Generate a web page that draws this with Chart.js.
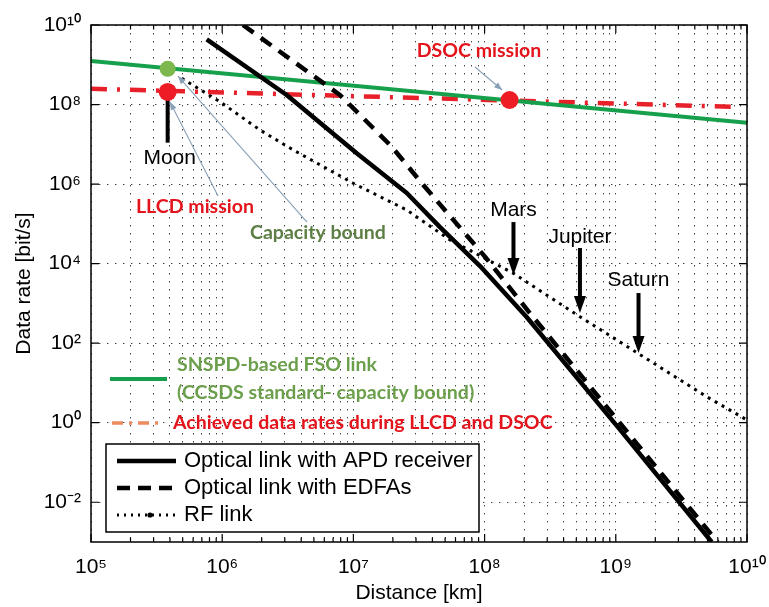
<!DOCTYPE html>
<html><head><meta charset="utf-8">
<script src="https://cdn.jsdelivr.net/npm/chart.js@4.4.1/dist/chart.umd.min.js"></script>
<style>html,body{margin:0;padding:0;background:#fff;}canvas{display:block;}</style>
</head><body>
<canvas id="c" width="769" height="607"></canvas>
<script>
// ---------------- data ----------------
const capDist  = [1e5, 1e10];
const capRate  = [1.25e9, 3.5e7];
const achDist  = [1e5, 8.4e9];
const achRate  = [2.5e8, 8.7e7];
const apdDist  = [7.62e5, 3.1e6, 1.06e7, 2.55e7, 4.57e7, 9.23e7, 2.09e8, 1.08e9, 5.38e9];
const apdRate  = [4.37e9, 1.74e8, 5.94e6, 5.97e5, 8.3e4, 8.7e3, 455, 0.66, 1e-3];
const edfaDist = [1.44e6, 7.9e6, 1.42e7, 1.96e7, 3.41e7, 1.007e8, 2.22e8, 1.44e9, 5.96e9];
const edfaRate = [1e10, 1.74e8, 2.53e7, 8.7e6, 9.5e5, 1.49e4, 564, 0.303, 1e-3];
const rfDist   = [4.91e5, 9.6e5, 1.94e6, 3.48e6, 9.97e6, 2.55e7, 5.45e7, 1.66e8, 5.33e8, 1.62e9, 4.93e9, 1e10];
const rfRate   = [4.57e8, 1.18e8, 2.29e7, 7.2e6, 1.05e6, 2.23e5, 3.93e4, 5.7e3, 462, 45.7, 4.5, 1.17];
const missionDist = [3.84e5, 1.55e8];     // LLCD, DSOC
const missionRate = [2.07e8, 1.3e8];
const moonCapDist = [3.84e5];
const moonCapRate = [7.9e8];
const xTickExp = [5, 6, 7, 8, 9, 10];
const yTickExp = [-2, 0, 2, 4, 6, 8, 10];
const planetNames = ['Moon', 'Mars', 'Jupiter', 'Saturn'];
const planetDist  = [3.84e5, 1.66e8, 5.33e8, 1.49e9];
const planetLabelRate = [4.5e6, 2.23e5, 4.75e4, 3.87e3];
const planetArrowFrom = [1.1e7, 1.11e5, 2.47e4, 1.82e3];
const planetArrowTo   = [2.07e8, 5.2e3, 573, 56.6];
const noteText = ['DSOC mission', 'LLCD mission', 'Capacity bound'];
const noteDist = [9.06e7, 6.2e5, 5.37e6];
const noteRate = [2.22e9, 2.65e5, 5.9e4];
const noteFromDist = [8.45e7, 9.3e5, 4.43e6];
const noteFromRate = [8.8e8, 5.0e5, 1.11e5];
const noteToDist = [1.36e8, 4.0e5, 4.6e5];
const noteToRate = [2.32e8, 1.16e8, 5.2e8];

// ---------------- helpers ----------------
const zip = (xs, ys) => xs.map((x, i) => ({x, y: ys[i]}));
const SUP = {'0':'⁰','1':'¹','2':'²','3':'³','4':'⁴','5':'⁵','6':'⁶','7':'⁷','8':'⁸','9':'⁹','-':'⁻'};
const expLabel = v => '10' + String(Math.round(Math.log10(v))).split('').map(c => SUP[c]).join('');
const isMajor = v => Math.abs(Math.log10(v) - Math.round(Math.log10(v))) < 1e-9;
const xTicks = [];
xTickExp.forEach((e, i) => {
  if (i < xTickExp.length - 1) { for (let k = 1; k <= 9; k++) xTicks.push(k * Math.pow(10, e)); }
  else xTicks.push(Math.pow(10, e));
});
const yTicks = yTickExp.map(e => Math.pow(10, e));

const GREEN = '#16a04c', RED = '#e8202a', TXTGREEN = '#6c9f4c', TXTGREEN2 = '#5d7f45', TXTRED = '#e3141c';
const NOTEBLUE = '#8aa0b6';
const SANS = '"Liberation Sans", Arial, sans-serif';
const CAL = 'Lato, "Open Sans", sans-serif';

function fitSize(ctx, text, width, family, weight) {
  ctx.font = weight + ' 20px ' + family;
  return 20 * width / ctx.measureText(text).width;
}
function arrowHead(ctx, x0, y0, x1, y1, len, half) {
  const ang = Math.atan2(y1 - y0, x1 - x0);
  ctx.beginPath();
  ctx.moveTo(x1, y1);
  ctx.lineTo(x1 - len * Math.cos(ang) + half * Math.sin(ang), y1 - len * Math.sin(ang) - half * Math.cos(ang));
  ctx.lineTo(x1 - len * Math.cos(ang) - half * Math.sin(ang), y1 - len * Math.sin(ang) + half * Math.cos(ang));
  ctx.closePath(); ctx.fill();
}

const decor = {
  id: 'decor',
  beforeDatasetsDraw(chart) {
    const {ctx, scales: {x, y}} = chart;
    ctx.save();
    ctx.fillStyle = '#000'; ctx.strokeStyle = '#000';
    planetNames.forEach((n, i) => {
      const px = x.getPixelForValue(planetDist[i]);
      const y0 = y.getPixelForValue(planetArrowFrom[i]);
      const y1 = y.getPixelForValue(planetArrowTo[i]);
      const hasHead = i > 0;
      ctx.lineWidth = 4;
      ctx.beginPath(); ctx.moveTo(px, y0); ctx.lineTo(px, hasHead ? y1 - 12 : y1); ctx.stroke();
      if (hasHead) arrowHead(ctx, px, y0, px, y1, 17, 6);
      ctx.font = '21px ' + SANS; ctx.textAlign = 'center'; ctx.textBaseline = 'middle';
      ctx.fillText(n, px + (i === 0 ? 2 : 0), y.getPixelForValue(planetLabelRate[i]));
    });
    ctx.restore();
  },
  afterDatasetsDraw(chart) {
    const {ctx, chartArea: a, scales: {x, y}} = chart;
    ctx.save();
    // frame
    ctx.strokeStyle = '#000'; ctx.lineWidth = 1.5;
    ctx.strokeRect(a.left, a.top, a.right - a.left, a.bottom - a.top);
    // inward ticks
    ctx.lineWidth = 1.2;
    x.ticks.forEach(t => {
      const px = x.getPixelForValue(t.value);
      const len = isMajor(t.value) ? 8 : 4.5;
      ctx.beginPath();
      ctx.moveTo(px, a.bottom); ctx.lineTo(px, a.bottom - len);
      ctx.moveTo(px, a.top); ctx.lineTo(px, a.top + len);
      ctx.stroke();
    });
    y.ticks.forEach(t => {
      const py = y.getPixelForValue(t.value);
      ctx.beginPath();
      ctx.moveTo(a.left, py); ctx.lineTo(a.left + 8, py);
      ctx.moveTo(a.right, py); ctx.lineTo(a.right - 8, py);
      ctx.stroke();
    });
    // annotation notes with thin arrows
    noteText.forEach((t, i) => {
      const fx = x.getPixelForValue(noteFromDist[i]), fy = y.getPixelForValue(noteFromRate[i]);
      const tx = x.getPixelForValue(noteToDist[i]), ty = y.getPixelForValue(noteToRate[i]);
      ctx.strokeStyle = NOTEBLUE; ctx.fillStyle = NOTEBLUE; ctx.lineWidth = 1.1;
      ctx.beginPath(); ctx.moveTo(fx, fy); ctx.lineTo(tx, ty); ctx.stroke();
      arrowHead(ctx, fx, fy, tx, ty, 8, 3.2);
    });
    const fs = fitSize(ctx, 'Achieved data rates during LLCD and DSOC', 380, CAL, 'bold');
    const CFONT = 'bold ' + fs.toFixed(2) + 'px ' + CAL;
    const noteCol = [TXTRED, TXTRED, TXTGREEN2];
    noteText.forEach((t, i) => {
      ctx.font = CFONT;
      ctx.fillStyle = noteCol[i]; ctx.textAlign = 'center'; ctx.textBaseline = 'middle';
      ctx.fillText(t, x.getPixelForValue(noteDist[i]), y.getPixelForValue(noteRate[i]));
    });
    // coloured legend (upper)
    const L = a.left, B = a.bottom;
    ctx.setLineDash([]);
    ctx.strokeStyle = GREEN; ctx.lineWidth = 4;
    ctx.beginPath(); ctx.moveTo(L + 19, B - 163); ctx.lineTo(L + 76, B - 163); ctx.stroke();
    ctx.textAlign = 'left'; ctx.textBaseline = 'middle';
    ctx.fillStyle = TXTGREEN; ctx.font = CFONT;
    ctx.fillText('SNSPD-based FSO link', L + 86, B - 177);
    ctx.fillText('(CCSDS standard- capacity bound)', L + 86, B - 149);
    ctx.strokeStyle = '#ec8b5e'; ctx.lineWidth = 3.5; ctx.setLineDash([11, 6, 3, 6]);
    ctx.beginPath(); ctx.moveTo(L + 21, B - 119); ctx.lineTo(L + 70, B - 119); ctx.stroke();
    ctx.setLineDash([]);
    ctx.fillStyle = TXTRED;
    ctx.fillText('Achieved data rates during LLCD and DSOC', L + 82, B - 119);
    // black legend box
    const bx = L + 15, by = B - 98, bw = 373, bh = 88;
    ctx.fillStyle = '#fff'; ctx.fillRect(bx, by, bw, bh);
    ctx.strokeStyle = '#000'; ctx.lineWidth = 1.5; ctx.strokeRect(bx, by, bw, bh);
    const items = chart.data.datasets.filter(d => d.inLegend);
    items.forEach((d, i) => {
      const ly = by + 17 + i * 27;
      ctx.strokeStyle = d.borderColor; ctx.lineWidth = d.borderWidth;
      ctx.setLineDash(d.legendDash || d.borderDash || []);
      ctx.beginPath(); ctx.moveTo(bx + 11, ly); ctx.lineTo(bx + 70, ly); ctx.stroke();
      ctx.setLineDash([]);
      if (d.legendDot) { ctx.fillStyle = '#000'; ctx.beginPath(); ctx.arc(bx + 44, ly, 2.6, 0, Math.PI * 2); ctx.fill(); }
      ctx.fillStyle = '#000'; ctx.font = '22px ' + SANS; ctx.textAlign = 'left'; ctx.textBaseline = 'middle';
      ctx.fillText(d.label, bx + 78, ly);
    });
    ctx.restore();
  }
};

new Chart(document.getElementById('c'), {
  type: 'line',
  data: {
    datasets: [
      {label: 'Missions', data: zip(missionDist, missionRate), showLine: false, pointRadius: 9,
        pointBackgroundColor: '#ee1c25', pointBorderWidth: 0, order: 0},
      {label: 'Capacity bound at Moon', data: zip(moonCapDist, moonCapRate), showLine: false, pointRadius: 8,
        pointBackgroundColor: '#7db84f', pointBorderWidth: 0, order: 1},
      {label: 'Optical link with APD receiver', data: zip(apdDist, apdRate), borderColor: '#000', borderWidth: 4.5,
        inLegend: true, order: 3},
      {label: 'Optical link with EDFAs', data: zip(edfaDist, edfaRate), borderColor: '#000', borderWidth: 4.5,
        borderDash: [13, 9], legendDash: [13, 8], inLegend: true, order: 2},
      {label: 'RF link', data: zip(rfDist, rfRate), borderColor: '#000', borderWidth: 3,
        borderDash: [3, 5], legendDash: [2, 5], legendDot: true, inLegend: true, order: 6},
      {label: 'SNSPD-based FSO link', data: zip(capDist, capRate), borderColor: GREEN, borderWidth: 4, order: 4},
      {label: 'Achieved data rates during LLCD and DSOC', data: zip(achDist, achRate), borderColor: RED,
        borderWidth: 4.5, borderDash: [16, 10, 3, 10], order: 5}
    ]
  },
  options: {
    responsive: false, animation: false,
    layout: {padding: {top: 25, right: 22, left: 0, bottom: 0}},
    elements: {line: {tension: 0, borderCapStyle: 'butt', borderJoinStyle: 'round', fill: false}, point: {radius: 0, hoverRadius: 0}},
    plugins: {legend: {display: false}, tooltip: {enabled: false}},
    scales: {
      x: {
        type: 'logarithmic', min: 1e5, max: 1e10,
        afterBuildTicks: s => { s.ticks = xTicks.map(v => ({value: v})); },
        afterFit: s => { s.height = 65; s.paddingLeft = 0; s.paddingRight = 0; },
        ticks: {autoSkip: false, maxRotation: 0, padding: 13, color: '#000',
          font: {family: SANS, size: 21},
          callback: v => isMajor(v) ? expLabel(v) : ''},
        grid: {drawTicks: false, color: 'rgba(0,0,0,0.75)', lineWidth: 1},
        border: {display: false, dash: [1.4, 6.6]},
        title: {display: true, text: 'Distance [km]', color: '#000', font: {family: SANS, size: 21},
          padding: {top: 0, bottom: 1.4}}
      },
      y: {
        type: 'logarithmic', min: 1e-3, max: 1e10,
        afterBuildTicks: s => { s.ticks = yTicks.map(v => ({value: v})); },
        afterFit: s => { s.width = 91; s.paddingTop = 0; s.paddingBottom = 0; },
        ticks: {autoSkip: false, padding: 10, color: '#000', font: {family: SANS, size: 21},
          callback: v => expLabel(v)},
        grid: {drawTicks: false, color: 'rgba(0,0,0,0.75)', lineWidth: 1},
        border: {display: false, dash: [1.4, 6.6]},
        title: {display: true, text: 'Data rate [bit/s]', color: '#000', font: {family: SANS, size: 21},
          padding: {top: 11.4, bottom: 0}}
      }
    }
  },
  plugins: [decor]
});
</script>
</body></html>
